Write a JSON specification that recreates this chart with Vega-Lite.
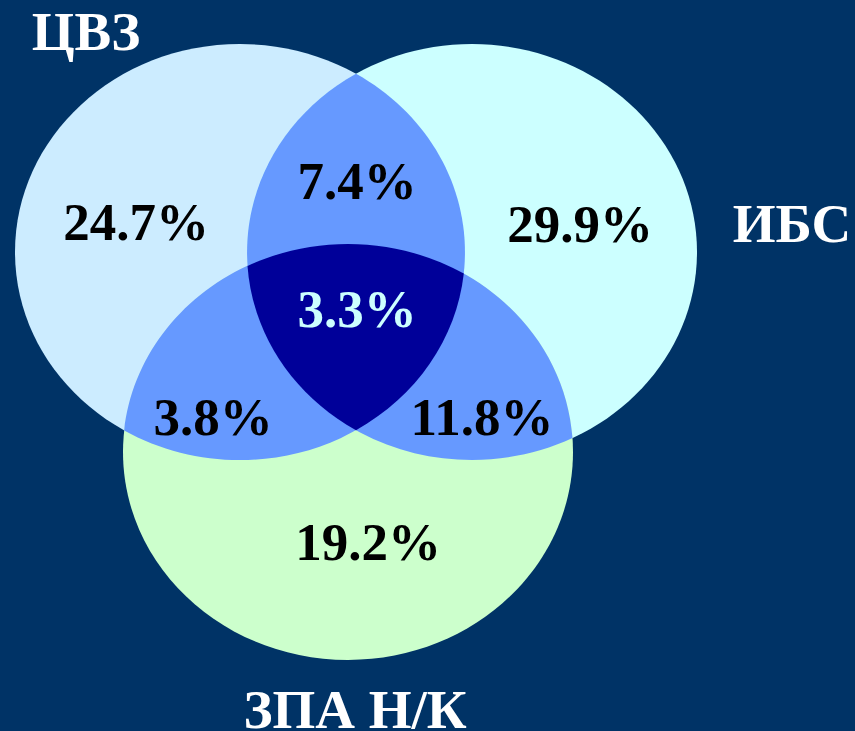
{
  "$schema": "https://vega.github.io/schema/vega-lite/v6.json",
  "width": 855,
  "height": 731,
  "autosize": {"type": "none"},
  "padding": 0,
  "background": "#003366",
  "config": {"view": {"stroke": null}},
  "layer": [
    {
      "data": {"values": [
        {"region": "ЦВЗ", "x": 240, "y": 252},
        {"region": "ИБС", "x": 472, "y": 252},
        {"region": "ЗПА Н/К", "x": 348, "y": 452},
        {"region": "ЦВЗ+ИБС", "x": 356, "y": 252},
        {"region": "ЦВЗ+ЗПА Н/К", "x": 294, "y": 352},
        {"region": "ИБС+ЗПА Н/К", "x": 410, "y": 352},
        {"region": "ЦВЗ+ИБС+ЗПА Н/К", "x": 356, "y": 330}
      ]},
      "mark": {"type": "point", "filled": true, "opacity": 1, "size": 4, "strokeWidth": 0},
      "encoding": {
        "x": {"field": "x", "type": "quantitative", "scale": {"domain": [0, 855], "nice": false, "zero": false}, "axis": null},
        "y": {"field": "y", "type": "quantitative", "scale": {"domain": [0, 731], "nice": false, "zero": false, "reverse": true}, "axis": null},
        "shape": {
          "field": "region", "type": "nominal", "legend": null,
          "scale": {
            "domain": ["ЦВЗ", "ИБС", "ЗПА Н/К", "ЦВЗ+ИБС", "ЦВЗ+ЗПА Н/К", "ИБС+ЗПА Н/К", "ЦВЗ+ИБС+ЗПА Н/К"],
            "range": [
              "M -225 0 A 225 208 0 1 1 225 0 A 225 208 0 1 1 -225 0 Z",
              "M -225 0 A 225 208 0 1 1 225 0 A 225 208 0 1 1 -225 0 Z",
              "M -225 0 A 225 208 0 1 1 225 0 A 225 208 0 1 1 -225 0 Z",
              "M 0 -178.2 A 225 208 0 0 0 0 178.2 A 225 208 0 0 0 0 -178.2 Z",
              "M -169.8 78.4 A 225 208 0 0 1 169.8 -78.4 A 225 208 0 0 1 -169.8 78.4 Z",
              "M -162.5 -86.1 A 225 208 0 0 1 162.5 86.1 A 225 208 0 0 1 -162.5 -86.1 Z",
              "M -108.5 -64.1 A 225 208 0 0 1 107.8 -56.4 A 225 208 0 0 1 0 100.2 A 225 208 0 0 1 -108.5 -64.1 Z"
            ]
          }
        },
        "color": {
          "field": "region", "type": "nominal", "legend": null,
          "scale": {
            "domain": ["ЦВЗ", "ИБС", "ЗПА Н/К", "ЦВЗ+ИБС", "ЦВЗ+ЗПА Н/К", "ИБС+ЗПА Н/К", "ЦВЗ+ИБС+ЗПА Н/К"],
            "range": ["#CCECFF", "#CCFFFF", "#CCFFCC", "#6699FF", "#6699FF", "#6699FF", "#000099"]
          }
        }
      }
    },
    {
      "data": {"values": [
        {"region": "ЦВЗ", "label": "24.7%", "x": 136, "y": 240},
        {"region": "ИБС", "label": "29.9%", "x": 580, "y": 242},
        {"region": "ЗПА Н/К", "label": "19.2%", "x": 368, "y": 560},
        {"region": "ЦВЗ+ИБС", "label": "7.4%", "x": 357, "y": 199},
        {"region": "ЦВЗ+ЗПА Н/К", "label": "3.8%", "x": 213, "y": 435},
        {"region": "ИБС+ЗПА Н/К", "label": "11.8%", "x": 482, "y": 435},
        {"region": "ЦВЗ+ИБС+ЗПА Н/К", "label": "3.3%", "x": 357, "y": 327}
      ]},
      "mark": {"type": "text", "font": "Liberation Serif", "fontWeight": "bold", "fontSize": 53, "align": "center", "baseline": "alphabetic"},
      "encoding": {
        "x": {"field": "x", "type": "quantitative"},
        "y": {"field": "y", "type": "quantitative"},
        "text": {"field": "label", "type": "nominal"},
        "color": {"condition": {"test": "datum.region === 'ЦВЗ+ИБС+ЗПА Н/К'", "value": "#CCFFFF"}, "value": "#000000"}
      }
    },
    {
      "data": {"values": [
        {"label": "ЦВЗ", "x": 86, "y": 50},
        {"label": "ИБС", "x": 792, "y": 242},
        {"label": "ЗПА Н/К", "x": 355, "y": 728}
      ]},
      "mark": {"type": "text", "font": "Liberation Serif", "fontWeight": "bold", "fontSize": 55, "align": "center", "baseline": "alphabetic", "color": "#FFFFFF"},
      "encoding": {
        "x": {"field": "x", "type": "quantitative"},
        "y": {"field": "y", "type": "quantitative"},
        "text": {"field": "label", "type": "nominal"}
      }
    }
  ]
}
